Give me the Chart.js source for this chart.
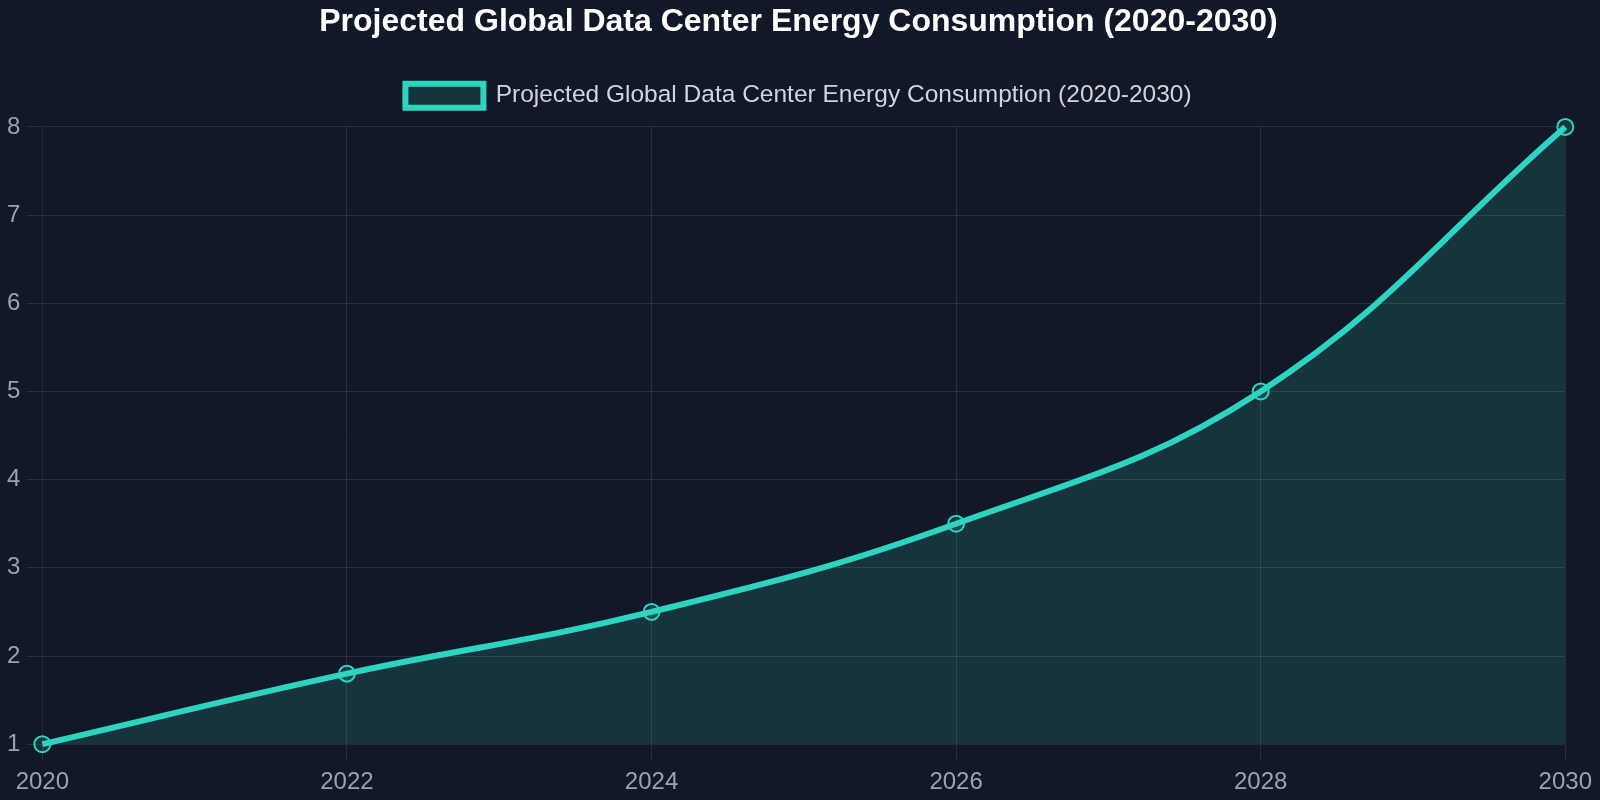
<!DOCTYPE html>
<html>
<head>
<meta charset="utf-8">
<script src="https://cdn.jsdelivr.net/npm/chart.js@4"></script>
<style>
  html, body { margin: 0; padding: 0; background: #111827; }
  #wrap { width: 1600px; height: 800px; }
</style>
</head>
<body>
<div id="wrap"><canvas id="energy-chart"></canvas></div>
<script>
const years = ["2020", "2022", "2024", "2026", "2028", "2030"];
const consumption = [1, 1.8, 2.5, 3.5, 5, 8];
const chartTitle = "Projected Global Data Center Energy Consumption (2020-2030)";

const lineColor = "#2dd4bf";
const fillColor = "rgba(45, 212, 191, 0.15)";
const gridColor = "rgba(255, 255, 255, 0.1)";
const tickColor = "#9ca3af";

Chart.defaults.font.family = "'Liberation Sans', Arial, sans-serif";

// a little extra room under the legend
const legendGap = {
  id: "legendGap",
  beforeInit(chart) {
    const fit = chart.legend.fit;
    chart.legend.fit = function () {
      fit.bind(chart.legend)();
      this.height += 9;
    };
  },
};

const ctx = document.getElementById("energy-chart").getContext("2d");
const chart = new Chart(ctx, {
  type: "line",
  data: {
    labels: years,
    datasets: [
      {
        label: chartTitle,
        data: consumption,
        borderColor: lineColor,
        backgroundColor: fillColor,
        borderWidth: 6,
        fill: true,
        tension: 0.4,
        pointRadius: 8,
        pointBorderWidth: 2,
        pointBackgroundColor: fillColor,
        pointBorderColor: lineColor,
      },
    ],
  },
  options: {
    responsive: true,
    maintainAspectRatio: false,
    animation: false,
    layout: { padding: { top: 2.5, left: 1, right: 4, bottom: -5 } },
    scales: {
      x: {
        grid: { color: gridColor, tickLength: 16 },
        ticks: { color: tickColor, font: { size: 24 }, padding: 8 },
      },
      y: {
        grid: { color: gridColor, tickLength: 16 },
        ticks: { color: tickColor, font: { size: 24 }, padding: 6, stepSize: 1 },
      },
    },
    plugins: {
      title: {
        display: true,
        text: chartTitle,
        color: "#ffffff",
        font: { size: 32, weight: "bold" },
        padding: { top: 0, bottom: 22.5 },
      },
      legend: {
        labels: {
          color: "#d1d5db",
          font: { size: 24.5 },
          boxWidth: 78,
          boxHeight: 24,
          padding: 20,
        },
      },
    },
  },
  plugins: [legendGap],
});
</script>
</body>
</html>
